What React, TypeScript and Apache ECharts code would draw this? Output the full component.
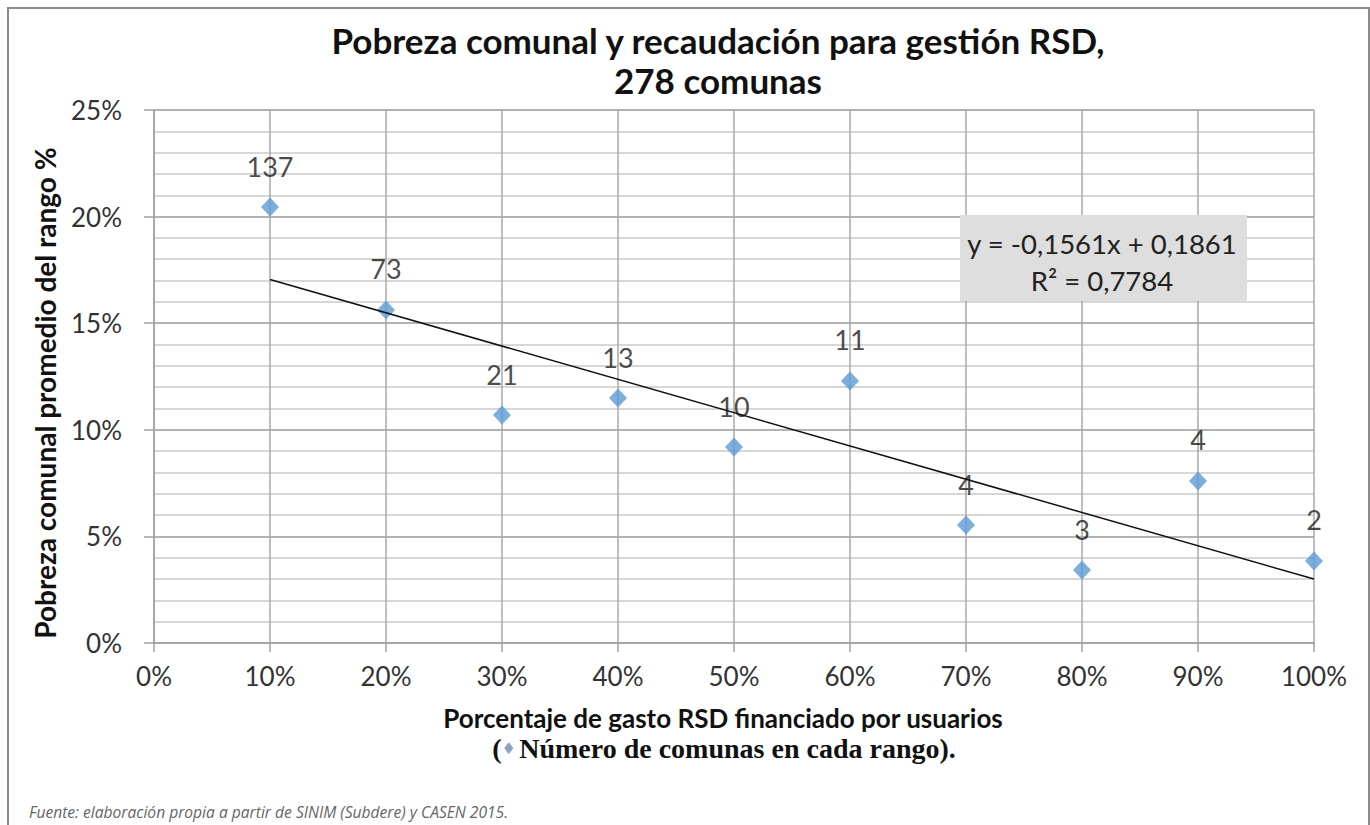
import React, { useEffect, useRef } from "react";
import * as echarts from "echarts";

const xValues = [10, 20, 30, 40, 50, 60, 70, 80, 90, 100];
const yValues = [20.45, 15.62, 10.69, 11.49, 9.19, 12.29, 5.53, 3.42, 7.6, 3.85];
const counts = ["137", "73", "21", "13", "10", "11", "4", "3", "4", "2"];
const trendX = [10, 100];
const trendY = [17.05, 3.0];
const titleLines = ["Pobreza comunal y recaudación para gestión RSD,", "278 comunas"];
const equationLines = ["y = -0,1561x + 0,1861", "R² = 0,7784"];
const yAxisName = "Pobreza comunal promedio del rango %";
const xAxisName = "Porcentaje de gasto RSD financiado por usuarios";
const xAxisNote = "Número de comunas en cada rango).";
const source = "Fuente: elaboración propia a partir de SINIM (Subdere) y CASEN 2015.";

const FONT = "Lato, 'Open Sans', sans-serif";

export default function App() {
  const ref = useRef<HTMLDivElement>(null);
  useEffect(() => {
    if (!ref.current) return;
    const chart = echarts.init(ref.current, null, { renderer: "svg" });
    const scatterData = xValues.map((x, i) => ({ value: [x, yValues[i]], label: { formatter: counts[i] } }));
    const trendData = trendX.map((x, i) => [x, trendY[i]]);
    chart.setOption({
      animation: false,
      backgroundColor: "#ffffff",
      grid: { left: 154, top: 110, width: 1160, height: 533, containLabel: false },
      xAxis: {
        type: "value",
        min: 0,
        max: 100,
        interval: 10,
        axisLine: { show: true, lineStyle: { color: "#a0a0a0", width: 1.5 } },
        axisTick: { show: true, length: 9, lineStyle: { color: "#a0a0a0", width: 1.5 } },
        axisLabel: { formatter: "{value}%", fontSize: 26, color: "#333", fontFamily: FONT, margin: 20 },
        splitLine: { show: true, lineStyle: { color: "#a8a8a8", width: 1.5 } },
      },
      yAxis: {
        type: "value",
        min: 0,
        max: 25,
        interval: 5,
        axisLine: { show: true, lineStyle: { color: "#a0a0a0", width: 1.5 } },
        axisTick: { show: true, length: 10, lineStyle: { color: "#a0a0a0", width: 1.5 } },
        axisLabel: { formatter: "{value}%", fontSize: 26, color: "#333", fontFamily: FONT, margin: 32 },
        splitLine: { show: true, lineStyle: { color: "#9a9a9a", width: 1.5 } },
        minorTick: { show: false, splitNumber: 5 },
        minorSplitLine: { show: true, lineStyle: { color: "#cacaca", width: 1.5 } },
      },
      series: [
        {
          type: "scatter",
          data: scatterData,
          symbol: "diamond",
          symbolSize: [18, 19],
          itemStyle: { color: "#5b9bd5" },
          z: 2,
          label: {
            show: true,
            position: "top",
            distance: 18,
            fontSize: 27,
            color: "#1a1a1a",
            fontFamily: FONT,
          },
        },
        {
          type: "line",
          data: trendData,
          symbol: "none",
          lineStyle: { color: "#111", width: 1.5 },
          z: 3,
          silent: true,
        },
      ],
      graphic: [
        {
          type: "rect",
          shape: { x: 8, y: 8, width: 1361, height: 840 },
          style: { fill: "none", stroke: "#8a8a8a", lineWidth: 2 },
          silent: true,
          z: 100,
        },
        {
          type: "text",
          x: 718,
          y: 40,
          style: { text: titleLines[0], textAlign: "center", textVerticalAlign: "middle", fontSize: 35, fontWeight: "bold", fontFamily: FONT, fill: "#111" },
        },
        {
          type: "text",
          x: 718,
          y: 80,
          style: { text: titleLines[1], textAlign: "center", textVerticalAlign: "middle", fontSize: 35, fontWeight: "bold", fontFamily: FONT, fill: "#111" },
        },
        {
          type: "text",
          x: 45,
          y: 393,
          rotation: Math.PI / 2,
          style: { text: yAxisName, textAlign: "center", textVerticalAlign: "middle", fontSize: 28, fontWeight: "bold", fontFamily: FONT, fill: "#111" },
        },
        {
          type: "text",
          x: 723,
          y: 718,
          style: { text: xAxisName, textAlign: "center", textVerticalAlign: "middle", fontSize: 26, fontWeight: "bold", fontFamily: FONT, fill: "#111" },
        },
        {
          type: "text",
          x: 724,
          y: 748,
          style: {
            text: "{p|(}{d|♦} {t|" + xAxisNote + "}",
            textAlign: "center",
            textVerticalAlign: "middle",
            rich: {
              p: { fontSize: 28, fontWeight: "bold", fontFamily: "'Liberation Serif', serif", fill: "#111" },
              d: { fontSize: 16, fontFamily: "'DejaVu Sans', sans-serif", fill: "#8da2c2" },
              t: { fontSize: 28, fontWeight: "bold", fontFamily: "'Liberation Serif', serif", fill: "#111" },
            },
          },
        },
        {
          type: "rect",
          shape: { x: 960, y: 215, width: 287, height: 86 },
          style: { fill: "#dedede" },
          z: 10,
        },
        {
          type: "text",
          x: 1102,
          y: 243,
          z: 11,
          style: { text: equationLines[0], textAlign: "center", textVerticalAlign: "middle", fontSize: 27.5, fontFamily: FONT, fill: "#222" },
        },
        {
          type: "text",
          x: 1102,
          y: 280,
          z: 11,
          style: { text: equationLines[1], textAlign: "center", textVerticalAlign: "middle", fontSize: 27.5, fontFamily: FONT, fill: "#222" },
        },
        {
          type: "text",
          x: 29,
          y: 812,
          style: { text: source, textAlign: "left", textVerticalAlign: "middle", fontSize: 15.6, fontStyle: "italic", fontFamily: "'Open Sans', sans-serif", fill: "#666" },
        },
      ],
    });
    return () => chart.dispose();
  }, []);
  return (
    <div
      ref={ref}
      style={{ position: "absolute", left: 0, top: 0, width: 1370, height: 825, background: "#fff" }}
    />
  );
}
